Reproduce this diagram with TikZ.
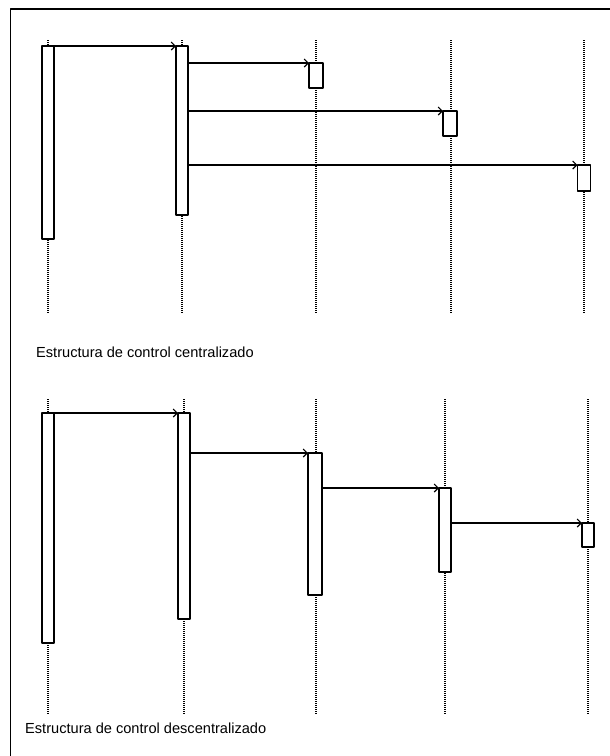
\documentclass[tikz,border=0pt]{standalone}
\usepackage{fontspec}
\setmainfont{Liberation Sans}
\usetikzlibrary{arrows.meta,positioning,calc}

\begin{document}
\begin{tikzpicture}[x=1pt, y=-1pt, line join=round, >={Straight Barb[length=4pt,width=8pt]},
  act/.style={draw, fill=white, line width=1.3pt, minimum width=12pt, inner sep=0pt, outer sep=0pt, anchor=north},
  life/.style={line width=1.1pt, dash pattern=on 1pt off 1pt},
  msg/.style={->, line width=1.1pt},
  caption/.style={anchor=base west, inner sep=0pt, font=\fontsize{14.6}{17}\selectfont}]
\useasboundingbox (0,0) rectangle (610,756);
\draw[line width=1.5pt] (10.5,756) -- (10.5,9) -- (610,9);
% centralizado
\foreach \x in {48,182,316,451,584} \draw[life] (\x,40) -- (\x,313);
\node[act, minimum height=193pt] (a1) at (48,46) {};
\node[act, minimum height=169pt] (b1) at (182,46) {};
\node[act, minimum height=25pt, minimum width=14pt] (c1) at (316,63) {};
\node[act, minimum height=25pt, minimum width=14pt] (d1) at (450,111) {};
\node[act, minimum height=26pt, minimum width=13pt] (e1) at (584,165) {};
\draw[msg] (a1.north east) -- (b1.north west);
\draw[msg] (b1.east |- c1.north) -- (c1.north west);
\draw[msg] (b1.east |- d1.north) -- (d1.north west);
\draw[msg] (b1.east |- e1.north) -- (e1.north west);
\node[caption] (t1) at (36,357) {Estructura de control centralizado};
% descentralizado
\foreach \x in {48,184,316,445,588} \draw[life] (\x,399) -- (\x,715);
\node[act, minimum height=230pt] (a2) at (48,413) {};
\node[act, minimum height=206pt] (b2) at (184,413) {};
\node[act, minimum height=142pt, minimum width=14pt] (c2) at (315,453) {};
\node[act, minimum height=84pt] (d2) at (445,488) {};
\node[act, minimum height=24pt] (e2) at (588,523) {};
\draw[msg] (a2.north east) -- (b2.north west);
\draw[msg] (b2.east |- c2.north) -- (c2.north west);
\draw[msg] (c2.east |- d2.north) -- (d2.north west);
\draw[msg] (d2.east |- e2.north) -- (e2.north west);
\node[caption] (t2) at (25,733) {Estructura de control descentralizado};
\end{tikzpicture}
\end{document}
